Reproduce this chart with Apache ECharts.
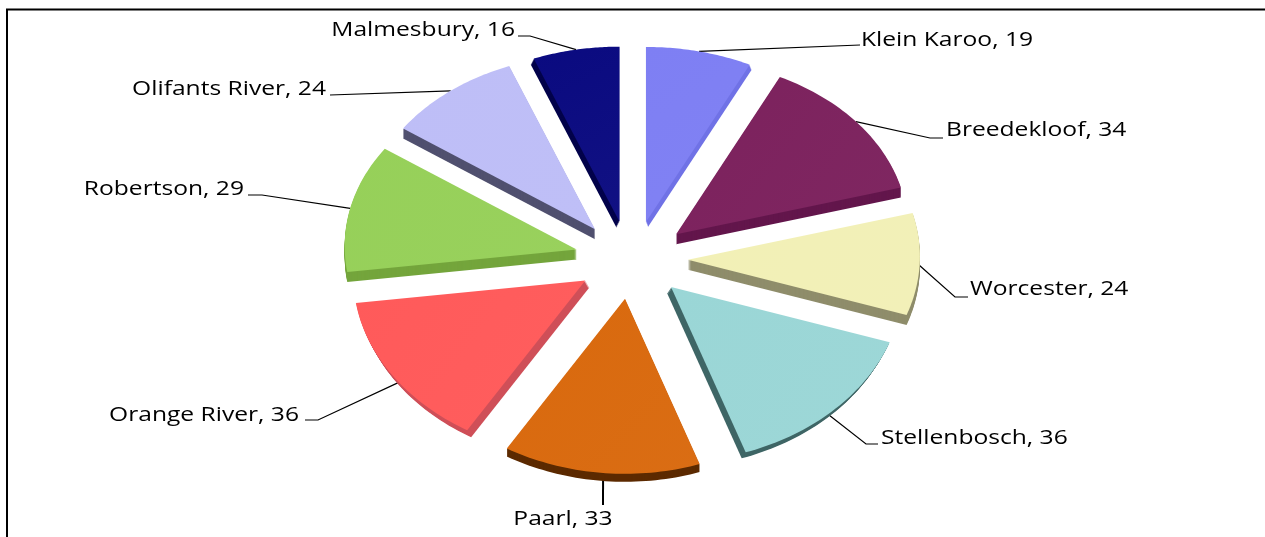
<!DOCTYPE html>
<html>
<head>
<meta charset="utf-8">
<style>html,body{margin:0;padding:0;background:#fff}#c{width:1265px;height:537px}</style>
<script src="https://cdn.jsdelivr.net/npm/echarts@6/dist/echarts.min.js"></script>
</head>
<body>
<div id="c"></div>
<script>
const categories = ['Klein Karoo','Breedekloof','Worcester','Stellenbosch','Paarl','Orange River','Robertson','Olifants River','Malmesbury'];
const values = [19,34,24,36,33,36,29,24,16];

const topColors = ['#7E7FF3','#7C215D','#F2F0B6','#9AD6D6','#D9690D','#FF5A5A','#96D059','#BEBEF7','#0A0A80'];
const sideColors = ['#7072E6','#63164C','#8F8D6B','#3F6666','#5C2A00','#CF4F58','#74A53C','#50506F','#02024A'];
const depths = [5,10,10,6,8,7,10,10,6];
const depthShiftX = [2,0,0,-4,0,4,0,0,-3];

// Layout of the tilted pie (pixels)
const cx = 633, cy = 260, rx = 232, ry = 175, explodeX = 55, explodeY = 39;
const leaderFrac = [0.5,0.5,0.5,0.55,0.488,0.44,0.5,0.5,0.5];
const leaderElbows = [[[860,45]],[[930,138],[943,138]],[[955,297],[968,297]],[[866,444],[878,444]],[[603,505]],[[318,420],[305,420]],[[262,195],[248,195]],[[330,95]],[[530,36],[518,36]]];
const labelAnchors = [[861,40,'left'],[946,130,'left'],[970,289,'left'],[881,438,'left'],[563,519,'center'],[299,415,'right'],[244,189,'right'],[326,89,'right'],[515,30,'right']];
const labelStretch = 1.2;
const perspectiveWarp = [-0.015,0.025,0.025,-0.03];
const total = values.reduce((a,b)=>a+b,0);

function pt(ox,oy,t){
  const q = Math.min(3,Math.floor(t/(Math.PI/2)));
  const u = t + perspectiveWarp[q]*Math.sin(2*t);
  const s = Math.sin(u);
  return [ox+rx*s, oy-ry*Math.cos(u)-3.5*s*s];
}

function renderSlice(params, api){
  const i = params.dataIndex;
  let before = 0;
  for(let k=0;k<i;k++) before += values[k];
  const v = api.value(0);
  const a0 = before/total*2*Math.PI, a1 = (before+v)/total*2*Math.PI, m=(a0+a1)/2;
  const sm = Math.sin(m);
  const ox = cx+explodeX*sm-(m>Math.PI?2.5:0), oy = cy-explodeY*Math.cos(m)-2.5*sm*sm;
  const outline = [[ox,oy]];
  const steps = 40;
  for(let s=0;s<=steps;s++) outline.push(pt(ox,oy,a0+(a1-a0)*s/steps));
  const children = [];
  const la = labelAnchors[i];
  const leaderStart = pt(ox,oy,a0+(a1-a0)*leaderFrac[i]);
  children.push({type:'polyline',shape:{points:[leaderStart].concat(leaderElbows[i])},style:{stroke:'#000',lineWidth:i===4?2:1.2,fill:null},silent:true});
  const n = depths[i];
  for(let d=n;d>=1;d--){
    children.push({type:'polygon',shape:{points:outline.map(p=>[p[0]+depthShiftX[i]*d/n,p[1]+d])},style:{fill:sideColors[i]},silent:true});
  }
  children.push({type:'polygon',shape:{points:outline},style:{
    fill:{type:'linear',x:0,y:0,x2:1,y2:1,colorStops:[{offset:0,color:topColors[i]},{offset:1,color:echarts.color.lift(topColors[i],0.03)}]}
  }});
  children.push({type:'text',x:la[0],y:la[1],scaleX:labelStretch,style:{text:categories[i]+', '+v,font:'20.5px "Open Sans"',fill:'#000',align:la[2],verticalAlign:'middle'},silent:true});
  return {type:'group',children};
}

const chart = echarts.init(document.getElementById('c'),null,{renderer:'canvas'});
chart.setOption({
  animation:false,
  backgroundColor:'#fff',
  tooltip:{show:false},
  graphic:[{type:'polyline',silent:true,shape:{points:[[7,537],[7,9.5],[1265,9.5]]},style:{stroke:'#000',lineWidth:2,fill:null}}],
  series:[{
    type:'custom',
    coordinateSystem:'none',
    renderItem:renderSlice,
    data:values.map((v,i)=>({name:categories[i],value:[v,i]}))
  }]
});
</script>
</body>
</html>
